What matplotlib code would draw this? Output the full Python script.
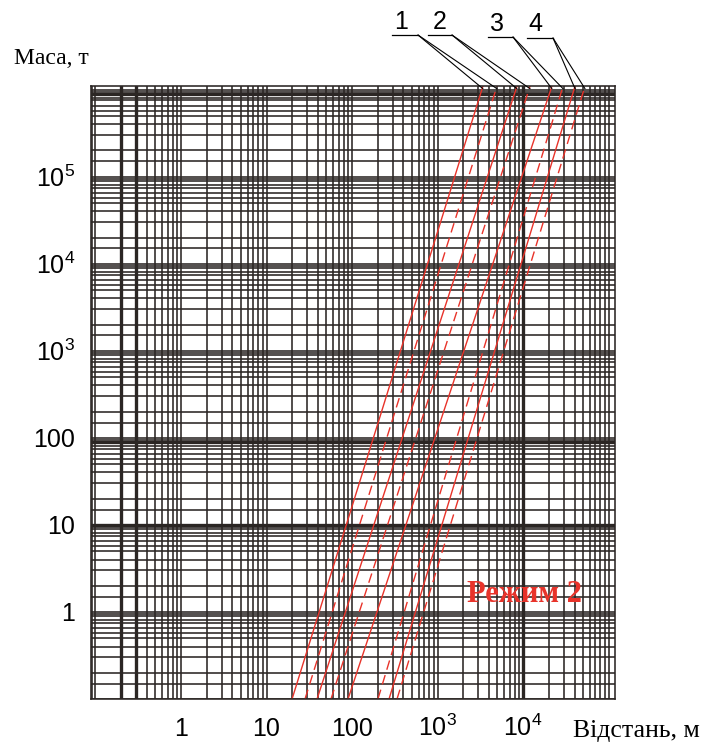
import numpy as np
import matplotlib
matplotlib.use("Agg")
import matplotlib.pyplot as plt
from matplotlib.ticker import FixedLocator, LogLocator, NullFormatter
from matplotlib.lines import Line2D

plt.rcParams['mathtext.fontset'] = 'custom'
plt.rcParams['mathtext.rm'] = 'Liberation Sans'

# axis ranges
x_range = [0.0886, 1.19e5]
y_range = [0.1, 1.1e6]

# decade grid and labels
x_decades = [0.1, 1, 10, 100, 1e3, 1e4, 1e5]
x_labels = ['', '1', '10', '100', r'$\mathregular{10^3}$', r'$\mathregular{10^4}$', '']
y_decades = [0.1, 1, 10, 100, 1e3, 1e4, 1e5, 1e6]
y_labels = ['', '1', '10', '100', r'$\mathregular{10^3}$', r'$\mathregular{10^4}$',
            r'$\mathregular{10^5}$', '']
x_subs = [2, 3, 4, 5, 6, 7, 8, 9]
y_subs = [1.5, 2, 3, 4, 5, 5.7, 6.5, 7.5, 8, 9, 9.5]
heavy_x = [0.2, 0.3, 1e4]
heavy_y = [9e5, 90, 10]

# red curves: distance at lowest and highest mass
mass_ends = [0.1, 1.1e6]
dist_low = [19.9, 28.2, 39.0, 56.8, 89.8, 201, 271, 336]
dist_high = [3400, 4960, 8510, 12100, 21800, 29400, 40600, 53100]
curve_groups = ['1', '2', '3', '4']

grid_col = '#2b2624'
red = '#e8332a'

fig = plt.figure(figsize=(7.01, 7.45), dpi=100)
ax = fig.add_axes([91/701, 1 - 699/745, 524/701, 613/745])
ax.set_xscale('log')
ax.set_yscale('log')
ax.set_xlim(x_range)
ax.set_ylim(y_range)

ax.xaxis.set_major_locator(FixedLocator(x_decades))
ax.xaxis.set_minor_locator(LogLocator(base=10, subs=x_subs, numticks=50))
ax.xaxis.set_minor_formatter(NullFormatter())
ax.set_xticklabels(x_labels)
ax.yaxis.set_major_locator(FixedLocator(y_decades))
ax.yaxis.set_minor_locator(LogLocator(base=10, subs=y_subs, numticks=50))
ax.yaxis.set_minor_formatter(NullFormatter())
ax.set_yticklabels(y_labels)

ax.grid(which='both', color=grid_col, lw=1.15)
ax.tick_params(which='both', length=0)
ax.tick_params(axis='x', pad=27, labelsize=18)
ax.tick_params(axis='y', pad=11.5, labelsize=18)
for lbl in ax.get_xticklabels():
    lbl.set_fontfamily('Liberation Sans')
    lbl.set_va('baseline')
for lbl in ax.get_yticklabels():
    lbl.set_fontfamily('Liberation Sans')
for s in ax.spines.values():
    s.set_color(grid_col)
    s.set_linewidth(1.15)

for v in heavy_x:
    ax.axvline(v, color=grid_col, lw=2.4)
for v in heavy_y:
    ax.axhline(v, color=grid_col, lw=2.4)

# red lines: first of each pair solid, second dashed
for i in range(len(dist_low)):
    if i % 2 == 0:
        ax.plot([dist_low[i], dist_high[i]], mass_ends, color=red, lw=1.0)
    else:
        ax.plot([dist_low[i], dist_high[i]], mass_ends, color=red, lw=1.0,
                dashes=(7, 4))

# curve number labels with leader lines
label_pos = [(401, 22), (440, 22), (497, 24), (535, 24)]
under = [(392, 418, 35), (428, 452, 35), (488, 513, 37), (527, 553, 38)]
for k, name in enumerate(curve_groups):
    lx, ly = label_pos[k]
    fig.text(lx/701, 1 - ly/745, name, fontsize=18, family='Liberation Sans',
             ha='center', va='center')
    x0, x1, uy = under[k]
    fig.add_artist(Line2D([x0/701, x1/701], [1 - uy/745]*2, color='black', lw=0.9))
    for j in (2*k, 2*k + 1):
        ax.annotate('', xy=(dist_high[j], y_range[1] * 0.93), xycoords='data',
                    xytext=(x1, 745 - uy), textcoords='figure pixels',
                    arrowprops=dict(arrowstyle='-', color='black', lw=0.8,
                                    shrinkA=0, shrinkB=0),
                    annotation_clip=False)

ax.text(0.828, 0.171, 'Режим 2', transform=ax.transAxes, color=red,
        fontsize=22, fontweight='bold', family='Liberation Serif',
        ha='center', va='center')

fig.text(14/701, 1 - 58/745, 'Маса, т', fontsize=17, family='Liberation Serif',
         ha='left', va='center')
fig.text(573/701, 1 - 731/745, 'Відстань, м', fontsize=18.5,
         family='Liberation Serif', ha='left', va='center')

fig.savefig('out.png', dpi=100)
